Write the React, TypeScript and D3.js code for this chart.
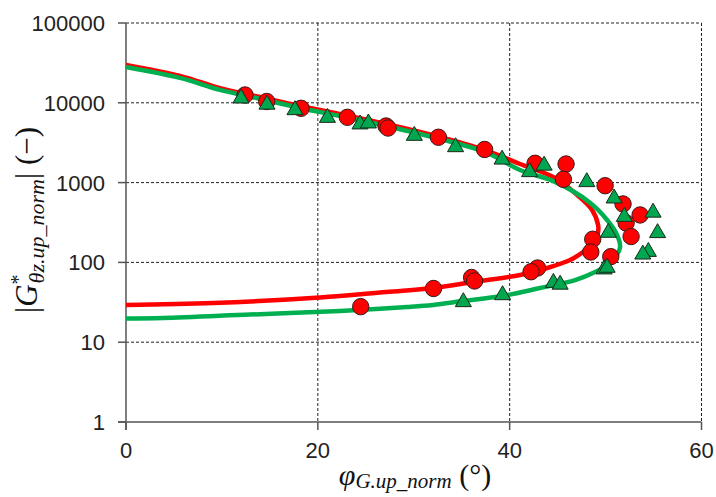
import React from "react";
import * as d3 from "d3";

const xTicks = [0, 20, 40, 60];
const yTicks = [1, 10, 100, 1000, 10000, 100000];

// model curves [phi, |G|]
const redLine: [number, number][] = [
  [0, 29800], [5.63, 21700], [9.8, 15300], [13.97, 11800], [18.14, 9120], [23.25, 6840],
  [28.47, 4980], [32.74, 3720], [37.43, 2560], [41.08, 1710], [44.73, 1140], [47.03, 700],
  [48.59, 454], [49.22, 294], [49.22, 240], [48.91, 180], [47.65, 135], [46.3, 107],
  [43.9, 85], [41.08, 69.5], [36.18, 56.8], [32.01, 47.7], [27.11, 42.6], [20.23, 36.3],
  [9.07, 31.0], [0, 29.3],
];
const greenLine: [number, number][] = [
  [0, 28100], [5.63, 20500], [9.8, 14500], [13.97, 11200], [18.14, 8610], [23.25, 6460],
  [28.47, 4700], [32.74, 3520], [37.43, 2420], [41.08, 1440], [44.73, 1020], [48.28, 571],
  [50.16, 340], [51.2, 220], [51.51, 156], [51.1, 120], [50.16, 92.8], [48.91, 75.9],
  [46.82, 60.1], [43.17, 47.7], [39.21, 37.9], [35.14, 32.8], [32.01, 29.3], [29.3, 27.6],
  [22.31, 24.6], [12.93, 22.2], [3.86, 20.1], [0, 19.8],
];
// measured points
const redPts: [number, number][] = [
  [12.41, 12530], [14.67, 10380], [18.25, 8530], [23.08, 6580], [27.11, 5120], [27.32, 4830],
  [32.57, 3700], [37.39, 2600], [42.65, 1745], [45.88, 1710], [45.6, 1100], [49.95, 914],
  [51.82, 540], [53.6, 393], [52.14, 312], [52.66, 211], [48.66, 195], [48.46, 135],
  [50.54, 118], [42.91, 85], [42.23, 76.4], [36.03, 64.7], [36.34, 58.5], [32.06, 47.1],
  [24.47, 27.9],
];
const greenPts: [number, number][] = [
  [11.99, 11380], [14.7, 9520], [17.62, 8120], [21.0, 6500], [24.4, 5380], [25.27, 5535],
  [30.06, 3870], [34.36, 2790], [39.21, 1950], [42.08, 1358], [43.59, 1638], [48.04, 1018],
  [50.89, 635], [51.95, 373], [54.95, 422], [50.29, 236], [55.42, 234], [54.46, 136],
  [53.88, 126], [49.84, 82], [50.16, 86], [44.56, 55.7], [45.26, 52.8], [39.26, 39],
  [35.17, 31.9],
];

const W = 716, H = 497;
const L = 126, R = 701.5, T = 23, B = 422;

export default function App() {
  const x = d3.scaleLinear().domain([0, 60]).range([L, R]);
  const y = d3.scaleLog().domain([1, 100000]).range([B, T]);
  const line = d3.line<[number, number]>().x(d => x(d[0])).y(d => y(d[1])).curve(d3.curveCatmullRom.alpha(0.5));
  const tri = d3.symbol().type(d3.symbolTriangle).size(112)();
  const tickFont = "'Liberation Sans', Arial, sans-serif";
  const mathFont = "'Liberation Serif', 'DejaVu Serif', serif";
  return (
    <svg width={W} height={H} style={{ position: "absolute", left: 0, top: 0, background: "#fff" }}>
      <rect x={0} y={0} width={W} height={H} fill="#fff" />
      {/* grid */}
      {yTicks.filter(t => t > 1).map(t => (
        <line key={"gy" + t} x1={L} x2={R} y1={y(t)} y2={y(t)} stroke="#222" strokeWidth={1} strokeDasharray="3,2" />
      ))}
      {xTicks.filter(t => t > 0).map(t => (
        <line key={"gx" + t} x1={x(t)} x2={x(t)} y1={T} y2={B} stroke="#222" strokeWidth={1} strokeDasharray="3,2" />
      ))}
      {/* axes */}
      <line x1={L} x2={L} y1={T} y2={B + 8} stroke="#555" strokeWidth={1.5} />
      <line x1={L - 8} x2={R} y1={B} y2={B} stroke="#555" strokeWidth={1.5} />
      {yTicks.map(t => (
        <line key={"ty" + t} x1={L - 8} x2={L} y1={y(t)} y2={y(t)} stroke="#555" strokeWidth={1.5} />
      ))}
      {xTicks.map(t => (
        <line key={"tx" + t} x1={x(t)} x2={x(t)} y1={B} y2={B + 8} stroke="#555" strokeWidth={1.5} />
      ))}
      {yTicks.map(t => (
        <text key={"ly" + t} x={105} y={y(t)} dy="0.36em" textAnchor="end" fontFamily={tickFont} fontSize={22} fill="#222">
          {String(t)}
        </text>
      ))}
      {xTicks.map(t => (
        <text key={"lx" + t} x={x(t)} y={458} textAnchor="middle" fontFamily={tickFont} fontSize={22} fill="#222">
          {String(t)}
        </text>
      ))}
      {/* lines */}
      <path d={line(redLine) || ""} fill="none" stroke="#ff0000" strokeWidth={4.5} />
      <path d={line(greenLine) || ""} fill="none" stroke="#00b050" strokeWidth={4.5} />
      {/* markers */}
      {redPts.map((p, i) => (
        <circle key={"rc" + i} cx={x(p[0])} cy={y(p[1])} r={8.2} fill="#ff0000" stroke="#3a1a1a" strokeWidth={1} />
      ))}
      {greenPts.map((p, i) => (
        <path key={"gt" + i} d={tri || ""} transform={`translate(${x(p[0])},${y(p[1])})`} fill="#00a650" stroke="#1a2a1a" strokeWidth={1} />
      ))}
      {/* axis titles */}
      <text x={415} y={485} textAnchor="middle" fontFamily={mathFont} fontSize={30} fill="#111">
        <tspan fontStyle="italic">φ</tspan>
        <tspan fontStyle="italic" fontSize={21} dy={3}>G.up_norm</tspan>
        <tspan dy={-3}> (°)</tspan>
      </text>
      <text transform="translate(37,220) rotate(-90)" textAnchor="middle" fontFamily={mathFont} fontSize={31} fill="#111">
        <tspan>|</tspan>
        <tspan fontStyle="italic">G</tspan>
        <tspan fontSize={20} dy={-12}>*</tspan>
        <tspan fontStyle="italic" fontSize={22} dx={-9} dy={19}>θz.up_norm</tspan>
        <tspan dy={-7}>| (−)</tspan>
      </text>
    </svg>
  );
}
